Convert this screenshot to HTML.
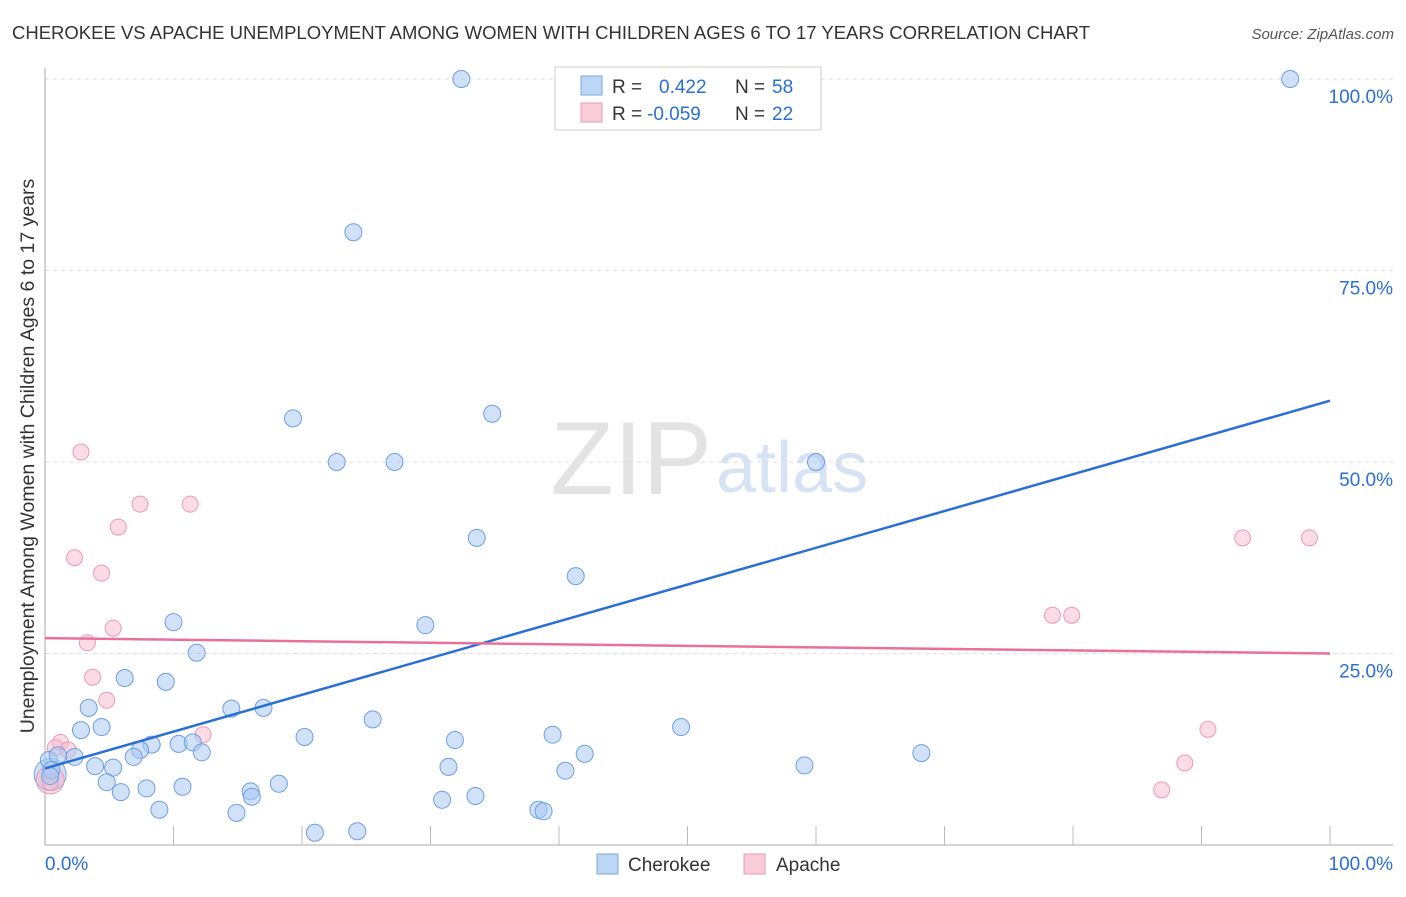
<!DOCTYPE html>
<html><head><meta charset="utf-8"><style>
body{margin:0;background:#fff;font-family:"Liberation Sans",sans-serif;}
svg text{font-family:"Liberation Sans",sans-serif;}
</style></head><body>
<svg id="chart" width="1406" height="892">
<text x="12" y="39" font-size="18.5" fill="#333">CHEROKEE VS APACHE UNEMPLOYMENT AMONG WOMEN WITH CHILDREN AGES 6 TO 17 YEARS CORRELATION CHART</text>
<text x="1394" y="39" font-size="15" fill="#555" font-style="italic" text-anchor="end">Source: ZipAtlas.com</text>
<text x="712" y="494" font-size="104" fill="#e3e3e3" text-anchor="end" font-family="Liberation Serif">ZIP</text>
<text x="716" y="492" font-size="72" fill="#d6e3f4">atlas</text>
<text transform="translate(34,456) rotate(-90)" font-size="19.5" fill="#333" text-anchor="middle">Unemployment Among Women with Children Ages 6 to 17 years</text>
<g id="grid"></g><g id="marks"></g>
<g>
<rect x="555" y="67" width="266" height="63" fill="#fff" stroke="#ccc"/>
<rect x="581" y="76" width="21" height="19" fill="#bcd6f5" stroke="#7aa7e0"/>
<rect x="581" y="103" width="21" height="19" fill="#f9ccd9" stroke="#eb9ab2"/>
<text x="612" y="93" font-size="19" fill="#333">R = <tspan x="659" fill="#2a6fd4">0.422</tspan><tspan x="735" fill="#333">N = </tspan><tspan x="772" fill="#2a6fd4">58</tspan></text>
<text x="612" y="120" font-size="19" fill="#333">R = <tspan x="647" fill="#2a6fd4">-0.059</tspan><tspan x="735" fill="#333">N = </tspan><tspan x="772" fill="#2a6fd4">22</tspan></text>
</g>
<g>
<rect x="597" y="854" width="21" height="20" fill="#bcd6f5" stroke="#7aa7e0"/>
<text x="628" y="871" font-size="19" fill="#333">Cherokee</text>
<rect x="744" y="854" width="21" height="20" fill="#f9ccd9" stroke="#eb9ab2"/>
<text x="776" y="871" font-size="19" fill="#333">Apache</text>
</g>
</svg>
<script>
const yTicks=[100,75,50,25];
const yTickLabels=["100.0%","75.0%","50.0%","25.0%"];
const cherX=[32.4,96.9,24.0,19.3,34.8,22.7,27.2,60.0,33.6,41.3,29.6,10.0,11.8,6.2,9.4,3.4,14.5,17.0,25.5,4.4,2.8,49.5,20.2,31.9,39.5,8.3,10.4,11.5,7.4,12.2,42.0,68.2,0.3,1.0,2.3,6.9,3.9,5.3,31.4,40.5,59.1,4.8,5.9,7.9,10.7,16.0,16.1,18.2,8.9,14.9,30.9,33.5,38.4,38.8,21.0,24.3,0.5,0.4];
const cherY=[100,100,80.0,55.7,56.3,50,50,50,40.1,35.1,28.7,29.1,25.1,21.8,21.3,17.9,17.8,17.9,16.4,15.4,15.0,15.4,14.1,13.7,14.4,13.1,13.2,13.4,12.4,12.1,11.9,12.0,11.1,11.7,11.5,11.5,10.3,10.1,10.2,9.7,10.4,8.2,6.9,7.4,7.6,7.0,6.3,8.0,4.6,4.2,5.9,6.4,4.6,4.4,1.6,1.8,9.8,9.0];
const apX=[2.8,7.4,11.3,5.7,2.3,4.4,5.3,3.3,3.7,4.8,12.3,1.2,0.8,1.8,0.4,93.2,98.4,78.4,79.9,90.5,88.7,86.9];
const apY=[51.3,44.5,44.5,41.5,37.5,35.5,28.3,26.4,21.9,18.9,14.4,13.4,12.7,12.4,8.2,40.1,40.1,30.0,30.0,15.1,10.7,7.2];
const cherLine=[10.0,58.0];
const apLine=[27.0,25.0];
const NS="http://www.w3.org/2000/svg";
const X0=45,X1=1330,Y0=845,Y100=79;
const sx=v=>X0+(X1-X0)*v/100, sy=v=>Y0-(Y0-Y100)*v/100;
function mk(tag,attrs,parent){const e=document.createElementNS(NS,tag);for(const k in attrs)e.setAttribute(k,attrs[k]);parent.appendChild(e);return e;}
const grid=document.getElementById('grid'),marks=document.getElementById('marks');
yTicks.forEach((t,i)=>{
 const l=mk('line',{x1:X0,x2:1393,y1:sy(t),y2:sy(t),stroke:'#ddd','stroke-dasharray':'4,4'},grid);
 
 
 const tx=mk('text',{x:1393,y:sy(t)+24,'font-size':19,fill:'#2a6fd4','text-anchor':'end'},grid);tx.textContent=yTickLabels[i];
 
 
});
const ax=mk('line',{x1:X0,x2:X0,y1:68,y2:Y0,stroke:'#aaa'},grid);


const bx=mk('line',{x1:X0,x2:1393,y1:Y0,y2:Y0,stroke:'#aaa'},grid);


for(let i=1;i<=10;i++){const t=mk('line',{x1:sx(i*10),x2:sx(i*10),y1:Y0-19,y2:Y0,stroke:'#bbb'},grid);
 
 }
const xl=mk('text',{x:45,y:870,'font-size':19,fill:'#2a6fd4'},grid);xl.textContent='0.0%';


const xr=mk('text',{x:1393,y:870,'font-size':19,fill:'#2a6fd4','text-anchor':'end'},grid);xr.textContent='100.0%';


const bb=mk('circle',{cx:sx(0.4),cy:sy(9.2),r:16,fill:'rgba(160,195,240,0.5)',stroke:'#7aa7e0'},marks);


const pb=mk('circle',{cx:sx(0.4),cy:sy(8.5),r:14,fill:'rgba(245,180,200,0.45)',stroke:'#eb9ab2'},marks);


apX.forEach((v,i)=>{const c=mk('circle',{cx:sx(v),cy:sy(apY[i]),r:8,fill:'rgba(248,190,208,0.55)',stroke:'#eb9ab2'},marks);
 
 });
cherX.forEach((v,i)=>{const c=mk('circle',{cx:sx(v),cy:sy(cherY[i]),r:8.5,fill:'rgba(170,200,242,0.55)',stroke:'#6d9fe0'},marks);
 
 });
const cl=mk('line',{x1:sx(0),y1:sy(cherLine[0]),x2:sx(100),y2:sy(cherLine[1]),stroke:'#2a6fd4','stroke-width':2.5},marks);


const al=mk('line',{x1:sx(0),y1:sy(apLine[0]),x2:sx(100),y2:sy(apLine[1]),stroke:'#e8709a','stroke-width':2.5},marks);


</script>
</body></html>
